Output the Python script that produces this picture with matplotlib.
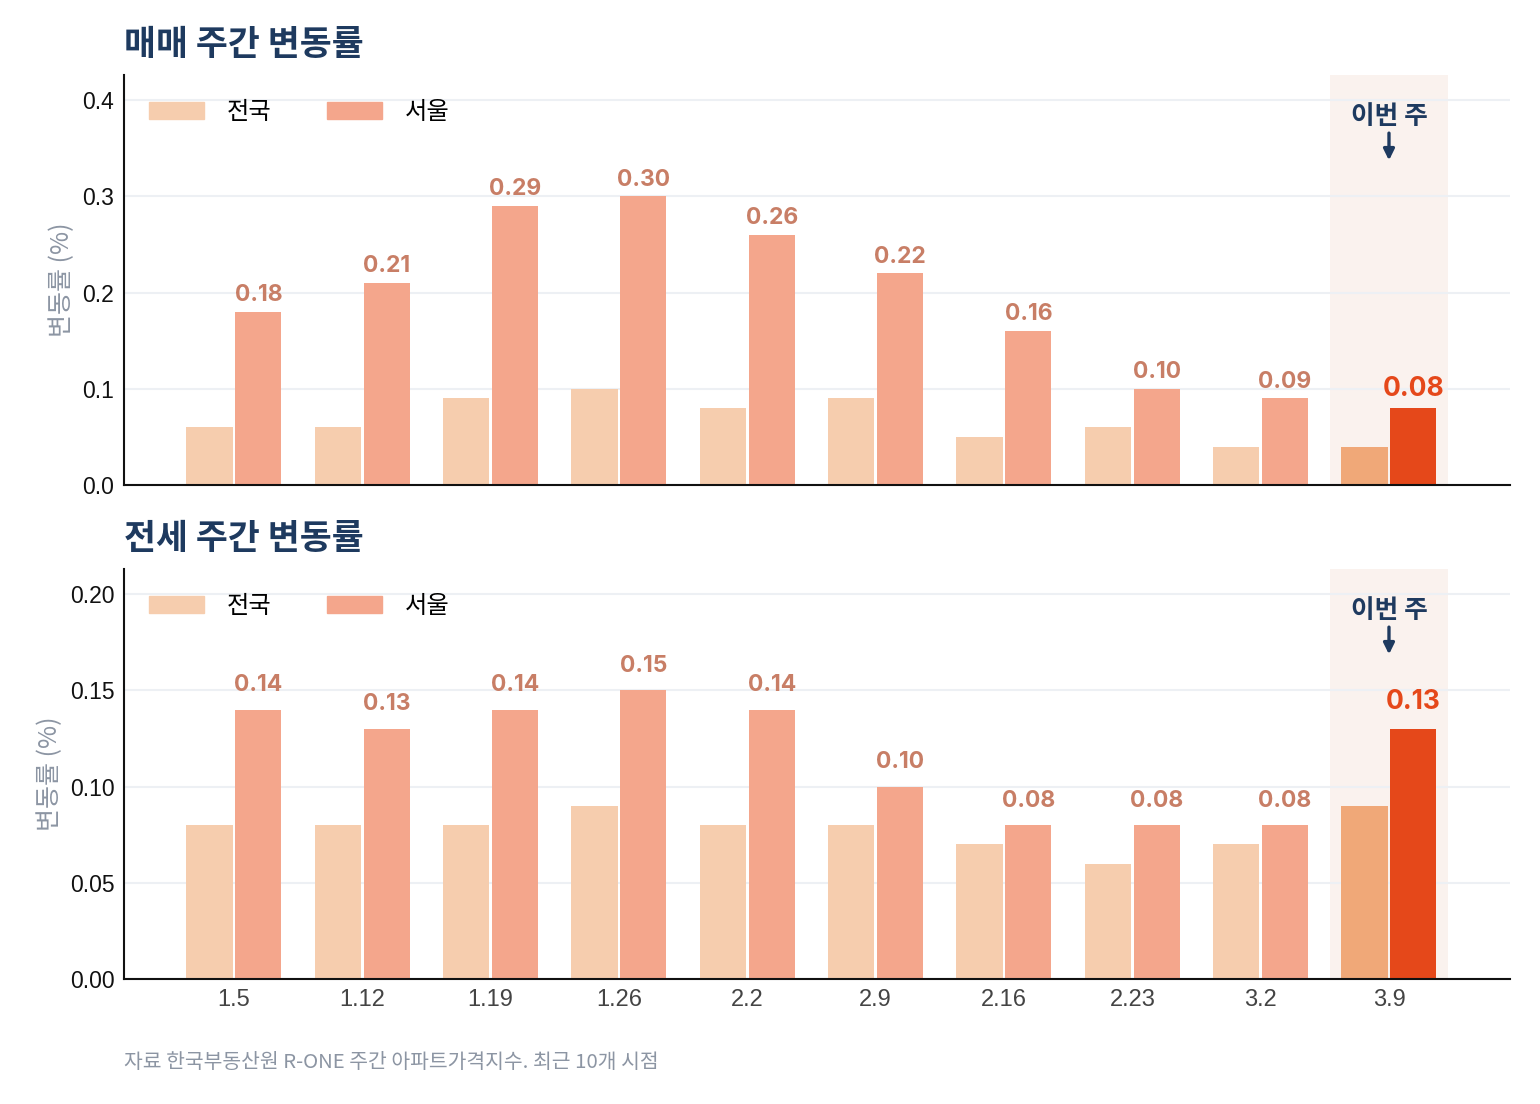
import matplotlib
matplotlib.use("Agg")
import matplotlib.pyplot as plt
import matplotlib.transforms as mtransforms
from matplotlib.ticker import MultipleLocator, FormatStrFormatter
from matplotlib.patches import Patch
import numpy as np

plt.rcParams['font.family'] = ['Inter', 'Noto Sans CJK KR', 'DejaVu Sans']

weeks = ["1.5", "1.12", "1.19", "1.26", "2.2", "2.9", "2.16", "2.23", "3.2", "3.9"]
sale_nation = [0.06, 0.06, 0.09, 0.10, 0.08, 0.09, 0.05, 0.06, 0.04, 0.04]
sale_seoul = [0.18, 0.21, 0.29, 0.30, 0.26, 0.22, 0.16, 0.10, 0.09, 0.08]
jeonse_nation = [0.08, 0.08, 0.08, 0.09, 0.08, 0.08, 0.07, 0.06, 0.07, 0.09]
jeonse_seoul = [0.14, 0.13, 0.14, 0.15, 0.14, 0.10, 0.08, 0.08, 0.08, 0.13]

titles = ["매매 주간 변동률", "전세 주간 변동률"]
series_names = ["전국", "서울"]
ylabel = "변동률 (%)"
note = "이번 주"
footer = "자료 한국부동산원 R-ONE 주간 아파트가격지수. 최근 10개 시점"

C_NAT = "#F6CDAE"
C_SEO = "#F4A68C"
C_NAT_HI = "#F0A878"
C_SEO_HI = "#E5481A"
C_LABEL = "#C87E66"
C_SPAN = "#FAF2EE"
C_NAVY = "#1E3A5F"
C_GRID = "#EDF0F4"
C_GRAY = "#8C95A3"

KR = ['Noto Sans CJK KR', 'DejaVu Sans']
TICK = ['Liberation Sans', 'DejaVu Sans']

W, H = 1540, 1104
fig = plt.figure(figsize=(W / 100, H / 100), dpi=100)

panels = [
    (sale_nation, sale_seoul, 485, 0.1, "%.1f", 12),
    (jeonse_nation, jeonse_seoul, 979, 0.05, "%.2f", 17.5),
]
title_y = [44, 538]

x = np.arange(len(weeks))
bw = 0.36
off = 0.19
hi = len(weeks) - 1

for pi, (nat, seo, bottom_px, step, fmt, lab_off) in enumerate(panels):
    ax = fig.add_axes([124 / W, 1 - bottom_px / H, 1386 / W, 410 / H])
    ymax = max(seo) * 1.42
    ax.set_ylim(0, ymax)
    ax.set_xlim(-0.857, 9.943)
    ax.axvspan(hi - 0.46, hi + 0.46, color=C_SPAN, zorder=0, lw=0)
    ax.yaxis.set_major_locator(MultipleLocator(step))
    ax.yaxis.set_major_formatter(FormatStrFormatter(fmt))
    ax.grid(axis='y', color=C_GRID, lw=1.5, zorder=0.5)
    ax.set_axisbelow(True)
    nat_colors = [C_NAT] * len(x)
    seo_colors = [C_SEO] * len(x)
    nat_colors[hi] = C_NAT_HI
    seo_colors[hi] = C_SEO_HI
    ax.bar(x - off, nat, width=bw, color=nat_colors, zorder=2, lw=0)
    ax.bar(x + off, seo, width=bw, color=seo_colors, zorder=2, lw=0)
    for i, v in enumerate(seo):
        is_hi = i == hi
        ax.annotate(f"{v:.2f}", (x[i] + off, v), xytext=(0, lab_off + (1.5 if is_hi else 0)),
                    textcoords="offset points", ha="center", va="center",
                    fontsize=19 if is_hi else 16.5, fontweight="bold",
                    color=C_SEO_HI if is_hi else C_LABEL, zorder=4)
    for s in ["top", "right"]:
        ax.spines[s].set_visible(False)
    for s in ["left", "bottom"]:
        ax.spines[s].set_linewidth(1.5)
        ax.spines[s].set_color("#111111")
    ax.tick_params(axis='y', length=0, pad=7, labelsize=16.5, labelcolor="#111111")
    for t in ax.get_yticklabels():
        t.set_family(TICK)
    ax.set_xticks(x)
    if pi == 1:
        ax.set_xticklabels(weeks, family=TICK)
        ax.tick_params(axis='x', length=0, pad=7, labelsize=17, labelcolor="#444444")
    else:
        ax.set_xticklabels([])
        ax.tick_params(axis='x', length=0)
    ax.set_ylabel(ylabel, fontsize=18, color=C_GRAY, labelpad=5, family=KR)
    handles = [Patch(color=C_NAT), Patch(color=C_SEO)]
    ax.legend(handles, series_names, loc="upper left", bbox_to_anchor=(0.011, 0.965),
              ncol=2, frameon=False, handlelength=2.25, handleheight=0.75,
              handletextpad=0.95, columnspacing=2.3, borderaxespad=0,
              prop={'family': KR, 'size': 17.5})
    trans = mtransforms.blended_transform_factory(ax.transData, ax.transAxes)
    ax.text(hi, 0.90, note, transform=trans, ha="center", va="center", fontsize=18.5,
            fontweight="bold", color=C_NAVY, family=KR)
    ax.annotate("", xy=(hi, 0.785), xytext=(hi, 0.865), xycoords=trans, textcoords=trans,
                arrowprops=dict(arrowstyle="-|>,head_length=0.65,head_width=0.32",
                                color=C_NAVY, lw=2.4))
    fig.text(124 / W, 1 - title_y[pi] / H, titles[pi], ha="left", va="center",
             fontsize=25, fontweight="heavy", color=C_NAVY, family=KR)

fig.text(124 / W, 1 - 1062 / H, footer, ha="left", va="center", fontsize=14.7,
         color=C_GRAY, family=KR)

fig.savefig("out.png", dpi=100, facecolor="white")
